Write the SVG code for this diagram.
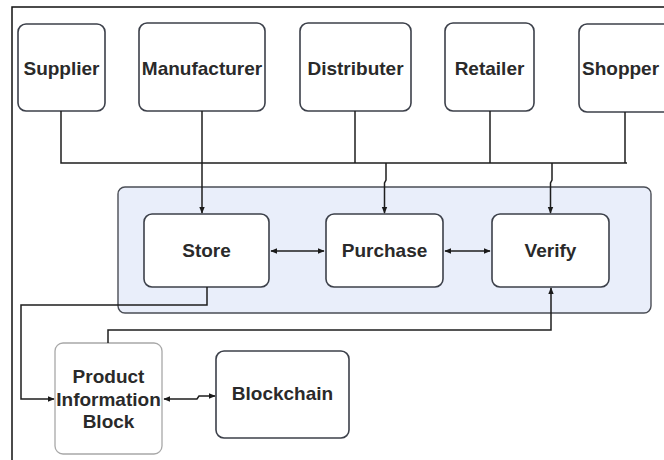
<svg xmlns="http://www.w3.org/2000/svg" width="664" height="460" viewBox="0 0 664 460">
  <defs>
    <marker id="arr" viewBox="0 0 10 10" refX="9" refY="5" markerWidth="7" markerHeight="7" orient="auto-start-reverse" markerUnits="userSpaceOnUse">
      <path d="M0,1 L10,5 L0,9 z" fill="#1a1a1a"/>
    </marker>
    <style>
      .box { fill: #ffffff; stroke: #3c404a; stroke-width: 1.6; }
      .soft { fill: #ffffff; stroke: #a8a8a8; stroke-width: 1.3; }
      .group { fill: #e9eefa; stroke: #4a4d55; stroke-width: 1.4; }
      .lbl { font-family: "Liberation Sans", Arial, sans-serif; font-weight: bold; font-size: 19px; fill: #2a2a2a; text-anchor: middle; }
      .wire { fill: none; stroke: #1e1e1e; stroke-width: 1.5; }
      .frame { fill: none; stroke: #111; stroke-width: 1.5; }
    </style>
  </defs>

  <rect width="664" height="460" fill="#ffffff"/>
  <!-- page frame -->
  <path class="frame" d="M664,7 H12 V460"/>

  <!-- actors -->
  <g id="supplier">
    <rect class="box" x="18" y="24" width="87" height="87" rx="8"/>
    <text class="lbl" x="61.5" y="75">Supplier</text>
  </g>
  <g id="manufacturer">
    <rect class="box" x="139" y="23" width="126" height="88" rx="8"/>
    <text class="lbl" x="202" y="75">Manufacturer</text>
  </g>
  <g id="distributer">
    <rect class="box" x="300" y="23" width="111" height="88" rx="8"/>
    <text class="lbl" x="355.5" y="75">Distributer</text>
  </g>
  <g id="retailer">
    <rect class="box" x="445" y="23" width="89" height="88" rx="8"/>
    <text class="lbl" x="489.5" y="75">Retailer</text>
  </g>
  <g id="shopper">
    <rect class="box" x="579" y="24" width="92" height="88" rx="8"/>
    <text class="lbl" x="582" y="75" style="text-anchor:start">Shopper</text>
  </g>

  <!-- operations container -->
  <g id="operations">
    <rect class="group" x="118" y="187" width="533" height="126" rx="7"/>
  </g>
  <g id="store">
    <rect class="box" x="144" y="214" width="125" height="73" rx="8"/>
    <text class="lbl" x="206.5" y="257">Store</text>
  </g>
  <g id="purchase">
    <rect class="box" x="326" y="214" width="117" height="73" rx="8"/>
    <text class="lbl" x="384.5" y="257">Purchase</text>
  </g>
  <g id="verify">
    <rect class="box" x="492" y="214" width="117" height="73" rx="8"/>
    <text class="lbl" x="550.5" y="257">Verify</text>
  </g>

  <!-- storage -->
  <g id="product-information-block">
    <rect class="soft" x="55" y="343" width="107" height="111" rx="8"/>
    <text class="lbl" x="108.5" y="383">Product</text>
    <text class="lbl" x="108.5" y="406">Information</text>
    <text class="lbl" x="108.5" y="428">Block</text>
  </g>
  <g id="blockchain">
    <rect class="box" x="216" y="351" width="133" height="87" rx="8"/>
    <text class="lbl" x="282.5" y="400">Blockchain</text>
  </g>

  <!-- connectors -->
  <g id="connectors">
    <!-- shared bus -->
    <path class="wire" d="M61,111 V163 H627"/>
    <path class="wire" d="M355,111 V163"/>
    <path class="wire" d="M490,111 V163"/>
    <path class="wire" d="M625,112 V163"/>
    <!-- bus to operations -->
    <path class="wire" d="M202,111 V213" marker-end="url(#arr)"/>
    <path class="wire" d="M386,163 V180 L384.5,183 V213" marker-end="url(#arr)"/>
    <path class="wire" d="M552,163 V180 L550.5,183 V213" marker-end="url(#arr)"/>
    <!-- between operations -->
    <path class="wire" d="M271,251 H324" marker-start="url(#arr)" marker-end="url(#arr)"/>
    <path class="wire" d="M445,251 H490" marker-start="url(#arr)" marker-end="url(#arr)"/>
    <!-- store to product block -->
    <path class="wire" d="M207,287 V305 H21 V399 H54" marker-end="url(#arr)"/>
    <!-- product block to verify -->
    <path class="wire" d="M108,343 V330 H551 V288" marker-end="url(#arr)"/>
    <!-- product block to blockchain -->
    <path class="wire" d="M164,399 H197 L199,396 H215" marker-start="url(#arr)" marker-end="url(#arr)"/>
  </g>
</svg>
